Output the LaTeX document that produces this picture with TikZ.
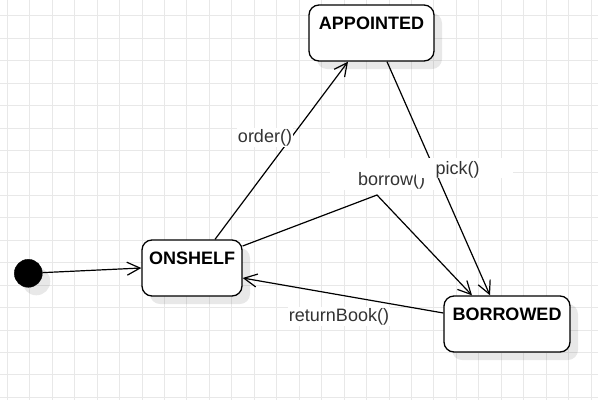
\documentclass[tikz,border=0pt]{standalone}
\usepackage{fontspec}
\setmainfont{Liberation Sans}
\usetikzlibrary{arrows.meta,shadows}
\definecolor{lblcol}{HTML}{333333}
\definecolor{gridcol}{HTML}{E8E8E8}
\begin{document}
\begin{tikzpicture}[x=1pt,y=-1pt,
  gridline/.style={draw=gridcol, line width=0.9pt},
  shad/.style={drop shadow={shadow xshift=8pt, shadow yshift=-8pt, fill=black, opacity=0.09}},
  statebox/.style={draw=black, line width=1.3pt, rounded corners=10pt, fill=white,
    inner sep=0pt, text height=24.4pt, text depth=31.6pt,
    font=\fontsize{18}{21}\selectfont\bfseries, shad},
  initstate/.style={circle, fill=black, draw=black, minimum size=28pt, inner sep=0pt, shad},
  edge/.style={draw=black, line width=1.2pt, -{Straight Barb[length=13pt,width=13pt,line width=1.2pt]}},
  lbl/.style={font=\fontsize{18}{21}\selectfont, text=lblcol, anchor=base, inner sep=1pt},
  lblbg/.style={fill=white}
]
\useasboundingbox (0,0) rectangle (598,400);
\fill[white] (0,0) rectangle (598,400);
% grid
\foreach \i in {0,...,26} \draw[gridline] ({7.3+22.45*\i},0) -- ({7.3+22.45*\i},400);
\foreach \j in {0,...,17} \draw[gridline] (0,{15.7+22.45*\j}) -- (598,{15.7+22.45*\j});

% states
\node[statebox, minimum width=125pt] (ap) at (371.5,33) {APPOINTED};
\node[statebox, minimum width=100pt] (on) at (192,268) {ONSHELF};
\node[statebox, minimum width=126pt] (bo) at (507,324) {BORROWED};
\node[initstate] (init) at (28.3,273.3) {};

% edges
\draw[edge] (init) -- (on.west);
\draw[edge] ([xshift=23pt]on.north) -- ([xshift=-23.5pt]ap.south);
\node[lbl, lblbg] (lo) at (265,142.3) {order()};

\coordinate (v) at (377,195);
\draw[edge] ([yshift=22pt]on.east) -- (v) -- ([xshift=-35pt]bo.north);
\fill[white] (330,158) rectangle (453,190);
\node[lbl] (lb) at (391.7,185.5) {borrow()};

\draw[edge] ([xshift=15.5pt]ap.south) -- ([xshift=-17pt]bo.north);
\fill[white] (416,158) rectangle (513,177.5);
\node[lbl] (lp) at (457.5,174.5) {pick()};

\draw[edge] ([yshift=11pt]bo.west) -- ([yshift=-10pt]on.east);
\node[lbl, lblbg] (lr) at (339,321) {returnBook()};
\end{tikzpicture}
\end{document}
